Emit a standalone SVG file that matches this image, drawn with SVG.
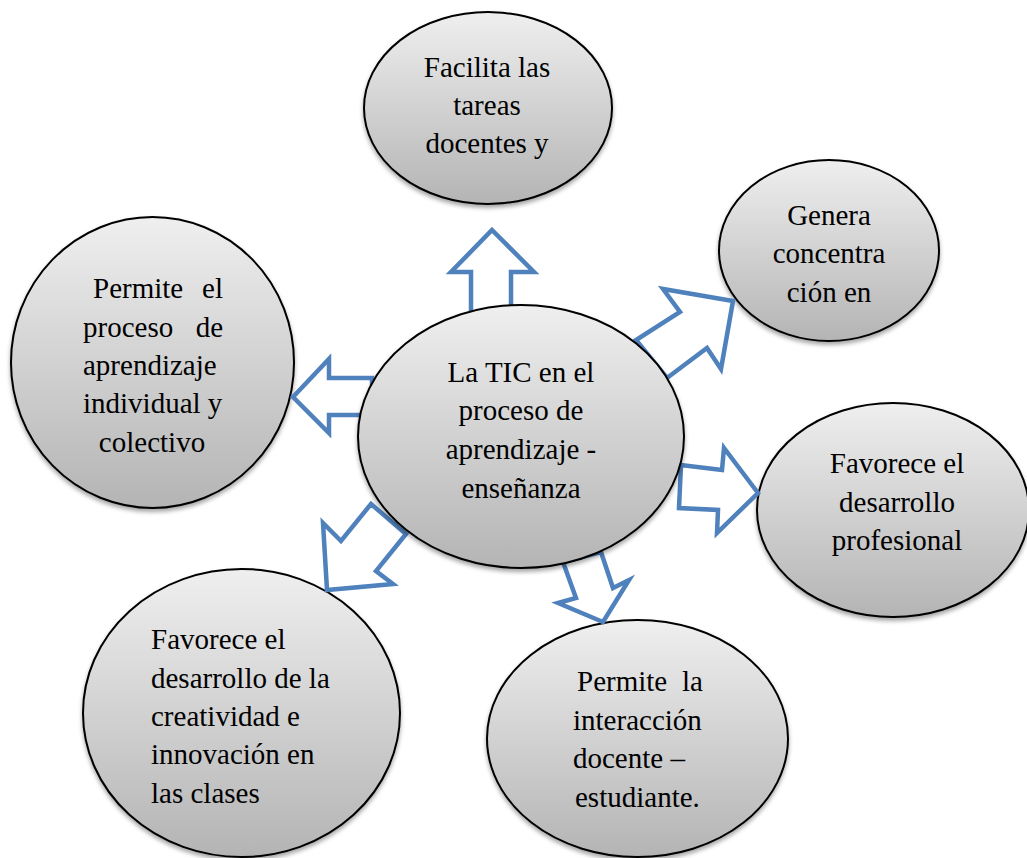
<svg xmlns="http://www.w3.org/2000/svg" width="1027" height="858" viewBox="0 0 1027 858">
<defs>
<linearGradient id="g" x1="0" y1="0" x2="0" y2="1">
<stop offset="0" stop-color="#efefef"/>
<stop offset="1" stop-color="#b4b4b4"/>
</linearGradient>
<filter id="sh" x="-10%" y="-10%" width="120%" height="125%">
<feDropShadow dx="0" dy="3" stdDeviation="2" flood-color="#000" flood-opacity="0.35"/>
</filter>
</defs>
<style>
.n{fill:url(#g);stroke:#000;stroke-width:2;filter:url(#sh)}
.a{fill:#fff;stroke:#4f81bd;stroke-width:4.5;stroke-linejoin:miter}
text{font-family:"Liberation Serif","Times New Roman",serif;font-size:29px;fill:#000}
.c{text-anchor:middle}
.e{text-anchor:end}
</style>
<rect width="1027" height="858" fill="#fff"/>
<g id="n-top">
<ellipse class="n" cx="488" cy="108" rx="124" ry="96"/>
<text class="c" x="487" y="77">Facilita las</text>
<text class="c" x="487" y="115">tareas</text>
<text class="c" x="487" y="153">docentes y</text>
</g>
<g id="n-genera">
<ellipse class="n" cx="829" cy="250.5" rx="110" ry="90.5"/>
<text class="c" x="829" y="225">Genera</text>
<text class="c" x="829" y="263">concentra</text>
<text class="c" x="829" y="302">ción en</text>
</g>
<g id="n-left">
<ellipse class="n" cx="152.5" cy="362.5" rx="141.5" ry="145.5"/>
<text x="93" y="298">Permite</text><text class="e" x="223" y="298">el</text>
<text x="83" y="337">proceso</text><text class="e" x="223" y="337">de</text>
<text x="83" y="375">aprendizaje</text>
<text x="83" y="413">individual y</text>
<text class="c" x="152" y="452">colectivo</text>
</g>
<g id="n-prof">
<ellipse class="n" cx="893" cy="510" rx="136" ry="107"/>
<text class="c" x="897" y="473">Favorece el</text>
<text class="c" x="897" y="512">desarrollo</text>
<text class="c" x="897" y="550">profesional</text>
</g>
<g id="n-creat">
<ellipse class="n" cx="241.5" cy="713" rx="158.5" ry="144"/>
<text x="151" y="649">Favorece el</text>
<text x="151" y="688">desarrollo de la</text>
<text x="151" y="726">creatividad e</text>
<text x="151" y="764">innovación en</text>
<text x="151" y="803">las clases</text>
</g>
<g id="n-inter">
<ellipse class="n" cx="637.5" cy="738.5" rx="150.5" ry="118.5"/>
<text x="577" y="691">Permite</text><text class="e" x="703" y="691">la</text>
<text x="573" y="730">interacción</text>
<text x="573" y="768">docente –</text>
<text x="575" y="807">estudiante.</text>
</g>
<g id="connectors">
<polygon class="a" points="492,230 534,272 511,272 511,325 471,325 471,272 451,272"/>
<polygon class="a" points="293,397 329,359 329,378 372,378 372,415 329,415 329,433"/>
<polygon class="a" points="327,590 323,523 341,541 371,504 406,534 376,571 393,584"/>
<polygon class="a" points="733,301 663,289 680,312 636,340 667,378 707,348 721,369"/>
<polygon class="a" points="758,493 724,448 722,470 681,465 679,508 718,510 717,533"/>
<polygon class="a" points="563,562 601,552 613,588 629,580 603,622 558,603 576,598"/>
</g>
<g id="n-center">
<ellipse class="n" cx="521" cy="436.5" rx="163" ry="131.5"/>
<text class="c" x="521" y="382">La TIC en el</text>
<text class="c" x="521" y="420">proceso de</text>
<text class="c" x="521" y="459">aprendizaje -</text>
<text class="c" x="521" y="498">enseñanza</text>
</g>
</svg>
